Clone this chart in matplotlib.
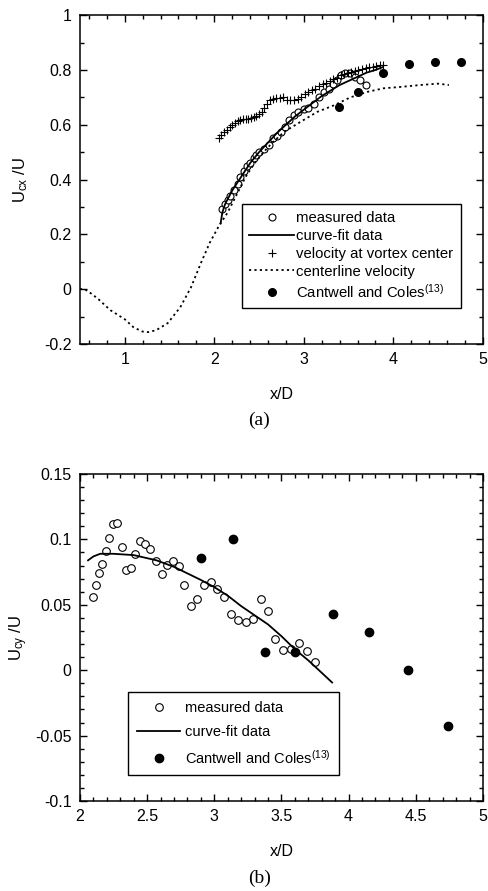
import matplotlib
matplotlib.use('Agg')
import matplotlib.pyplot as plt
from matplotlib.ticker import MultipleLocator, FuncFormatter

plt.rcParams['font.family'] = ['Liberation Sans', 'DejaVu Sans']
plt.rcParams['mathtext.default'] = 'regular'
plt.rcParams['axes.unicode_minus'] = False

# ---- (a) streamwise velocity ----
meas_a_x = [2.09, 2.12, 2.15, 2.18, 2.22, 2.26, 2.29, 2.33, 2.37, 2.40, 2.44, 2.47, 2.50, 2.55,
            2.61, 2.66, 2.70, 2.74, 2.79, 2.83, 2.89, 2.94, 3.00, 3.05, 3.11, 3.17, 3.22, 3.28,
            3.33, 3.37, 3.41, 3.46, 3.52, 3.57, 3.63, 3.69]
meas_a_y = [0.294, 0.31, 0.325, 0.34, 0.36, 0.385, 0.41, 0.43, 0.45, 0.46, 0.48, 0.49, 0.50, 0.51,
            0.525, 0.55, 0.56, 0.574, 0.59, 0.617, 0.635, 0.647, 0.656, 0.66, 0.675, 0.70, 0.72, 0.73,
            0.75, 0.765, 0.78, 0.79, 0.79, 0.775, 0.763, 0.745]

fit_a_x = [2.07, 2.09, 2.12, 2.2, 2.3, 2.4, 2.5, 2.6, 2.7, 2.8, 2.9, 3.0, 3.1, 3.2, 3.3, 3.4,
           3.5, 3.6, 3.7, 3.8, 3.88]
fit_a_y = [0.24, 0.28, 0.31, 0.36, 0.41, 0.46, 0.50, 0.535, 0.57, 0.60, 0.63, 0.655, 0.68, 0.705,
           0.725, 0.745, 0.76, 0.775, 0.79, 0.80, 0.81]

vort_x = [2.05, 2.08, 2.11, 2.14, 2.17, 2.20, 2.23, 2.26, 2.29, 2.32, 2.35, 2.38, 2.41, 2.44,
          2.47, 2.50, 2.53, 2.56, 2.59, 2.62, 2.65, 2.69, 2.73, 2.77, 2.81, 2.85, 2.89, 2.93,
          2.97, 3.01, 3.05, 3.09, 3.13, 3.17, 3.21, 3.25, 3.29, 3.33, 3.37, 3.41, 3.45, 3.49,
          3.53, 3.57, 3.61, 3.65, 3.69, 3.73, 3.77, 3.81, 3.85, 3.88]
vort_y = [0.550, 0.562, 0.575, 0.580, 0.592, 0.600, 0.606, 0.612, 0.618, 0.620, 0.622, 0.621,
          0.625, 0.628, 0.631, 0.638, 0.647, 0.660, 0.675, 0.690, 0.694, 0.697, 0.696, 0.700,
          0.692, 0.690, 0.691, 0.695, 0.702, 0.712, 0.720, 0.726, 0.731, 0.740, 0.748, 0.752,
          0.760, 0.768, 0.772, 0.780, 0.785, 0.789, 0.792, 0.797, 0.800, 0.803, 0.806, 0.809,
          0.812, 0.815, 0.817, 0.818]

center_x = [0.5, 0.55, 0.6, 0.7, 0.84, 1.0, 1.1, 1.2, 1.26, 1.35, 1.48, 1.62, 1.74, 1.85, 1.95,
            2.0, 2.05, 2.15, 2.25, 2.35, 2.45, 2.55, 2.65, 2.78, 2.96, 3.15, 3.33, 3.52, 3.71,
            3.89, 4.08, 4.3, 4.5, 4.62]
center_y = [0.0, 0.0, -0.01, -0.035, -0.077, -0.11, -0.14, -0.155, -0.157, -0.15, -0.124, -0.066,
            0.007, 0.095, 0.17, 0.2, 0.23, 0.28, 0.345, 0.41, 0.46, 0.50, 0.535, 0.574, 0.61,
            0.647, 0.67, 0.70, 0.72, 0.733, 0.738, 0.745, 0.75, 0.745]

cc_a_x = [3.39, 3.61, 3.88, 4.17, 4.46, 4.75]
cc_a_y = [0.665, 0.72, 0.79, 0.82, 0.83, 0.83]

# ---- (b) transverse velocity ----
meas_b_x = [2.094, 2.12, 2.141, 2.166, 2.193, 2.218, 2.248, 2.278, 2.31, 2.34, 2.377, 2.412,
            2.449, 2.487, 2.524, 2.566, 2.608, 2.65, 2.69, 2.737, 2.777, 2.824, 2.874, 2.923,
            2.973, 3.022, 3.072, 3.124, 3.179, 3.233, 3.288, 3.345, 3.40, 3.454, 3.514, 3.571,
            3.63, 3.69, 3.752]
meas_b_y = [0.056, 0.065, 0.074, 0.081, 0.091, 0.1007, 0.112, 0.1126, 0.094, 0.0765, 0.078,
            0.0887, 0.0989, 0.0963, 0.0923, 0.0833, 0.0736, 0.0808, 0.0833, 0.0795, 0.065, 0.049,
            0.0543, 0.0655, 0.0675, 0.0624, 0.056, 0.0428, 0.0382, 0.0365, 0.0395, 0.0543,
            0.0451, 0.0237, 0.0153, 0.016, 0.0206, 0.015, 0.0059]

fit_b_x = [2.06, 2.1, 2.15, 2.25, 2.4, 2.57, 2.7, 2.8, 2.9, 3.0, 3.1, 3.2, 3.3, 3.4, 3.5, 3.6,
           3.7, 3.8, 3.877]
fit_b_y = [0.084, 0.087, 0.089, 0.089, 0.088, 0.084, 0.079, 0.074, 0.069, 0.0635, 0.057, 0.049,
           0.042, 0.035, 0.026, 0.016, 0.0075, -0.002, -0.0094]

cc_b_x = [2.90, 3.14, 3.38, 3.60, 3.88, 4.15, 4.44, 4.74]
cc_b_y = [0.086, 0.100, 0.014, 0.014, 0.043, 0.029, 0.0, -0.043]

fmt = FuncFormatter(lambda v, p: '%g' % round(v, 4))


def style_axes(ax):
    ax.tick_params(which='both', direction='in', top=True, right=True, labelsize=11.5)
    ax.tick_params(which='major', length=5, width=1, pad=6)
    ax.tick_params(which='minor', length=3, width=1)
    for s in ax.spines.values():
        s.set_linewidth(1.1)
    ax.xaxis.set_major_formatter(fmt)
    ax.yaxis.set_major_formatter(fmt)


fig = plt.figure(figsize=(4.89, 8.91), dpi=100)

# panel (a)
ax1 = fig.add_axes([0.1636, 0.614, 0.824, 0.369])
ax1.plot(meas_a_x, meas_a_y, 'o', mfc='white', mec='black', ms=5, mew=0.8, label='measured data')
ax1.plot(fit_a_x, fit_a_y, '-', color='black', lw=1.3, label='curve-fit data')
ax1.plot(vort_x, vort_y, '+', color='black', ms=6, mew=0.8, label='velocity at vortex center')
ax1.plot(center_x, center_y, color='black', lw=1.3, dashes=(1.2, 1.8), label='centerline velocity')
ax1.plot(cc_a_x, cc_a_y, 'o', color='black', ms=5.5, label='Cantwell and Coles$^{(13)}$')
ax1.set_xlim(0.5, 5)
ax1.set_ylim(-0.2, 1)
ax1.xaxis.set_major_locator(MultipleLocator(1))
ax1.xaxis.set_minor_locator(MultipleLocator(0.2))
ax1.yaxis.set_major_locator(MultipleLocator(0.2))
ax1.yaxis.set_minor_locator(MultipleLocator(0.1))
style_axes(ax1)
ax1.set_xlabel('x/D', fontsize=11.5, labelpad=14)
ax1.set_ylabel('U$_{cx}$ /U', fontsize=12, labelpad=10)
leg1 = ax1.legend(loc='upper left', bbox_to_anchor=(0.402, 0.4255), fontsize=10.7,
                  numpoints=1, handlelength=3.0, handletextpad=0.15, labelspacing=0.25,
                  borderpad=0.5, borderaxespad=0, fancybox=False, framealpha=1,
                  edgecolor='black')
leg1.get_frame().set_linewidth(1.0)
fig.text(0.53, 1 - 420 / 891, '(a)', ha='center', va='center', fontsize=14,
         family='Liberation Serif')

# panel (b)
ax2 = fig.add_axes([0.1636, 0.101, 0.824, 0.367])
ax2.plot(meas_b_x, meas_b_y, 'o', mfc='white', mec='black', ms=5.5, mew=0.8, label='measured data')
ax2.plot(fit_b_x, fit_b_y, '-', color='black', lw=1.3, label='curve-fit data')
ax2.plot(cc_b_x, cc_b_y, 'o', color='black', ms=6, label='Cantwell and Coles$^{(13)}$')
ax2.set_xlim(2, 5)
ax2.set_ylim(-0.1, 0.15)
ax2.xaxis.set_major_locator(MultipleLocator(0.5))
ax2.xaxis.set_minor_locator(MultipleLocator(0.1))
ax2.yaxis.set_major_locator(MultipleLocator(0.05))
ax2.yaxis.set_minor_locator(MultipleLocator(0.01))
style_axes(ax2)
ax2.set_xlabel('x/D', fontsize=11.5, labelpad=14)
ax2.set_ylabel('U$_{cy}$ /U', fontsize=12, labelpad=4)
leg2 = ax2.legend(loc='upper left', bbox_to_anchor=(0.119, 0.333), fontsize=10.5,
                  numpoints=1, handlelength=3.0, handletextpad=0.3, labelspacing=0.68,
                  borderpad=0.6, borderaxespad=0, fancybox=False, framealpha=1,
                  edgecolor='black')
leg2.get_frame().set_linewidth(1.0)
fig.text(0.53, 1 - 878 / 891, '(b)', ha='center', va='center', fontsize=14,
         family='Liberation Serif')

fig.savefig('out.png', dpi=100)
